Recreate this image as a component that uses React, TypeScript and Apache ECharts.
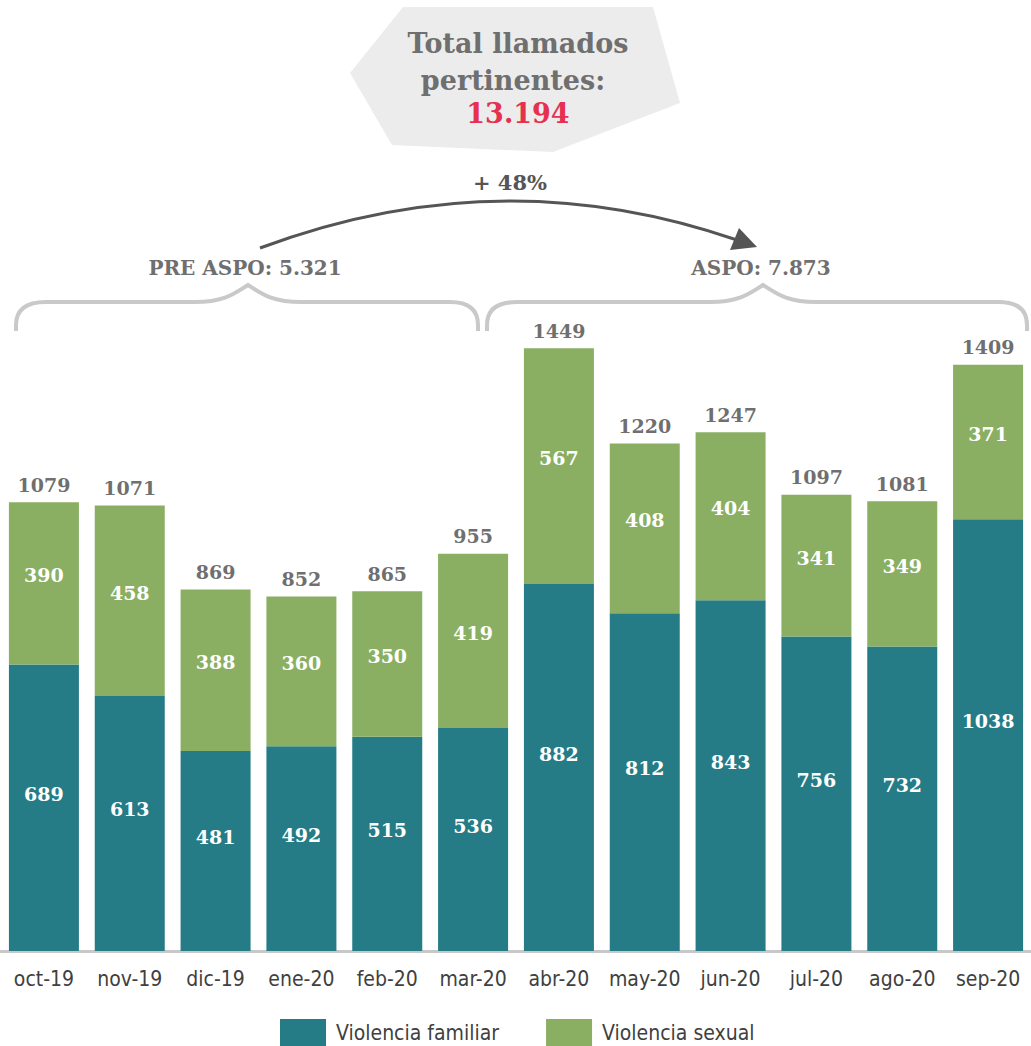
import React, { useEffect, useRef } from "react";
import * as echarts from "echarts";

const categories = ["oct-19", "nov-19", "dic-19", "ene-20", "feb-20", "mar-20", "abr-20", "may-20", "jun-20", "jul-20", "ago-20", "sep-20"];
const violenciaFamiliar = [689, 613, 481, 492, 515, 536, 882, 812, 843, 756, 732, 1038];
const violenciaSexual = [390, 458, 388, 360, 350, 419, 567, 408, 404, 341, 349, 371];
const totals = [1079, 1071, 869, 852, 865, 955, 1449, 1220, 1247, 1097, 1081, 1409];

const titleLines = ["Total llamados", "pertinentes:"];
const totalCalls = "13.194";
const growthText = "+ 48%";
const preAspoText = "PRE ASPO: 5.321";
const aspoText = "ASPO: 7.873";

const SLAB = "'DejaVu Serif', 'Liberation Serif', serif";
const COND = "'DejaVu Sans Condensed', 'Liberation Sans Narrow', Roboto, sans-serif";
const TEAL = "#257c86";
const GREEN = "#8aaf62";
const GREY_TXT = "#6f6f6f";

let registered = false;
function registerShapes() {
  if (registered) return;
  registered = true;
  echarts.graphic.registerShape(
    "braceLeft",
    echarts.graphic.extendPath(
      "M16,331 L16,325 Q16,302 46,302 L195,302 C225,302 235,293 248,285 C261,293 271,302 301,302 L450,302 Q478,302 478,325 L478,331",
      {}
    )
  );
  echarts.graphic.registerShape(
    "braceRight",
    echarts.graphic.extendPath(
      "M487,331 L487,325 Q487,302 517,302 L710,302 C740,302 750,293 763,285 C776,293 786,302 816,302 L998,302 Q1027,302 1027,325 L1027,331",
      {}
    )
  );
}

export default function App() {
  const ref = useRef<HTMLDivElement>(null);

  useEffect(() => {
    if (!ref.current) return;
    registerShapes();
    const chart = echarts.init(ref.current, null, { renderer: "svg" });

    const innerLabelBase = {
      show: true,
      position: "inside" as const,
      color: "#ffffff",
      fontFamily: SLAB,
      fontWeight: "bold" as const,
      fontSize: 19,
    };

    const textStyle = (size: number, color: string) => ({
      fill: color,
      font: `bold ${size}px ${SLAB}`,
      textAlign: "center",
      textVerticalAlign: "middle",
    });

    const option: any = {
      animation: false,
      backgroundColor: "#ffffff",
      grid: { left: 1, right: 0, top: 119, bottom: 95, containLabel: false },
      legend: {
        data: ["Violencia familiar", "Violencia sexual"],
        left: 280,
        top: 1019,
        padding: 0,
        icon: "rect",
        itemWidth: 46,
        itemHeight: 27,
        itemGap: 47,
        textStyle: { color: "#404040", fontSize: 21, fontFamily: COND, padding: [0, 0, 0, 5] },
      },
      xAxis: {
        type: "category",
        data: categories,
        axisTick: { show: false },
        axisLine: { show: true, lineStyle: { color: "#c8c8c8", width: 3 } },
        axisLabel: { color: "#404040", fontSize: 21, fontFamily: COND, margin: 17, interval: 0 },
      },
      yAxis: {
        type: "value",
        min: 0,
        max: 2000,
        show: false,
        splitLine: { show: false },
      },
      series: [
        {
          name: "Total",
          type: "bar",
          data: totals,
          barWidth: 70,
          barGap: "-100%",
          silent: true,
          z: 1,
          itemStyle: { color: "rgba(0,0,0,0)" },
          label: {
            show: true,
            position: "top",
            distance: 8,
            color: GREY_TXT,
            fontFamily: SLAB,
            fontWeight: "bold",
            fontSize: 19,
          },
        },
        {
          name: "Violencia familiar",
          type: "bar",
          stack: "calls",
          data: violenciaFamiliar,
          barWidth: 70,
          barGap: "-100%",
          z: 2,
          itemStyle: { color: TEAL },
          label: { ...innerLabelBase, offset: [0, -14] },
        },
        {
          name: "Violencia sexual",
          type: "bar",
          stack: "calls",
          data: violenciaSexual,
          barWidth: 70,
          barGap: "-100%",
          z: 2,
          itemStyle: { color: GREEN },
          label: { ...innerLabelBase, offset: [0, -8] },
        },
      ],
      graphic: [
        {
          type: "polygon",
          shape: { points: [[403, 7], [653, 7], [680, 103], [553, 152], [392, 145], [350, 73]] },
          style: { fill: "#ececec" },
          z: 0,
        },
        { type: "text", x: 518, y: 43, style: { text: titleLines[0], ...textStyle(27, GREY_TXT) } },
        { type: "text", x: 513, y: 80, style: { text: titleLines[1], ...textStyle(27, GREY_TXT) } },
        { type: "text", x: 518, y: 113, style: { text: totalCalls, ...textStyle(27, "#e5304f") } },
        { type: "text", x: 510, y: 182, style: { text: growthText, ...textStyle(21, "#555555") } },
        {
          type: "bezierCurve",
          shape: { x1: 260, y1: 248, cpx1: 500, cpy1: 158, x2: 737, y2: 240 },
          style: { stroke: "#555555", lineWidth: 3, fill: null },
        },
        {
          type: "polygon",
          shape: { points: [[757, 247], [730, 250], [739, 228]] },
          style: { fill: "#555555" },
        },
        { type: "text", x: 245, y: 268, style: { text: preAspoText, ...textStyle(20, GREY_TXT) } },
        { type: "text", x: 761, y: 268, style: { text: aspoText, ...textStyle(20, GREY_TXT) } },
        {
          type: "braceLeft",
          x: 0,
          y: 0,
          style: { stroke: "#c9c9c9", lineWidth: 4, fill: "none" },
        },
        {
          type: "braceRight",
          x: 0,
          y: 0,
          style: { stroke: "#c9c9c9", lineWidth: 4, fill: "none" },
        },
      ],
    };

    chart.setOption(option);
    return () => chart.dispose();
  }, []);

  return (
    <div
      ref={ref}
      style={{ position: "fixed", left: 0, top: 0, width: 1031, height: 1046, background: "#fff" }}
    />
  );
}
